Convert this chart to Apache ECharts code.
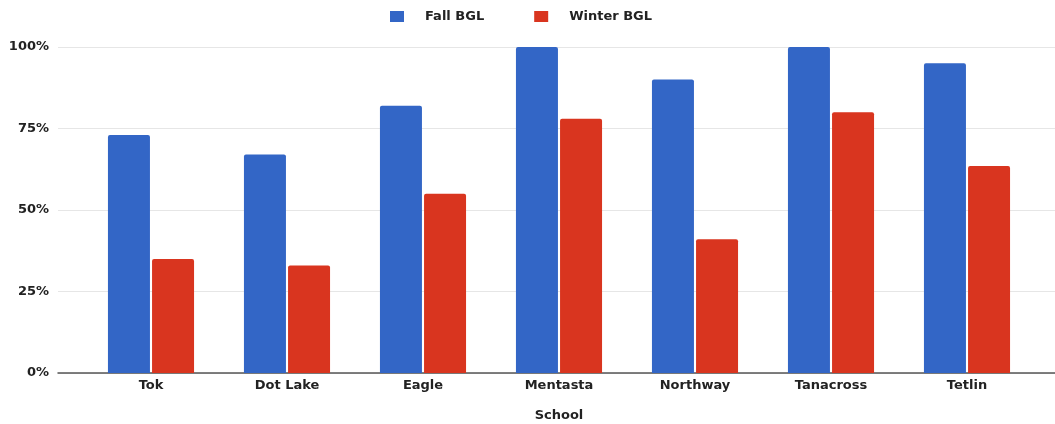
<!DOCTYPE html>
<html>
<head>
<meta charset="utf-8">
<script src="https://cdn.jsdelivr.net/npm/echarts@6/dist/echarts.min.js"></script>
<style>
  html, body { margin: 0; padding: 0; background: #fff; }
  #main { width: 1055px; height: 424px; }
</style>
</head>
<body>
<div id="main"></div>
<script>
const schools = ['Tok', 'Dot Lake', 'Eagle', 'Mentasta', 'Northway', 'Tanacross', 'Tetlin'];
const fallBGL = [0.73, 0.67, 0.82, 1.00, 0.90, 1.00, 0.95];
const winterBGL = [0.35, 0.33, 0.55, 0.78, 0.41, 0.80, 0.635];
const yTicks = [0, 0.25, 0.5, 0.75, 1];

const font = 'DejaVu Sans, sans-serif';
const txt = { fontFamily: font, fontSize: 13, fontWeight: 'bold', color: '#222' };

let myChart = echarts.init(document.getElementById('main'));
myChart.setOption({
    animation: false,
    legend: {
        top: 5,
        left: 385,
        itemWidth: 14,
        itemHeight: 11,
        itemGap: 50,
        icon: 'rect',
        textStyle: Object.assign({ padding: [0, 0, 0, 16] }, txt),
        data: ['Fall BGL', 'Winter BGL']
    },
    grid: [
        { left: 58, right: 0, top: 47, bottom: 51, outerBoundsMode: 'none' },
        { left: 83, right: 20, top: 47, bottom: 51, outerBoundsMode: 'none' }
    ],
    xAxis: [{
        gridIndex: 0,
        type: 'category',
        data: [''],
        axisLine: { show: true, lineStyle: { color: '#555', width: 1.5 } },
        axisTick: { show: false },
        axisLabel: { show: false }
    }, {
        gridIndex: 1,
        type: 'category',
        data: schools,
        axisLine: { show: false },
        axisTick: { show: false },
        axisLabel: Object.assign({ margin: 6 }, txt),
        name: 'School',
        nameLocation: 'middle',
        nameGap: 36,
        nameTextStyle: txt
    }],
    yAxis: [{
        gridIndex: 0,
        type: 'value',
        min: yTicks[0],
        max: yTicks[yTicks.length - 1],
        interval: 0.25,
        axisLine: { show: false },
        axisTick: { show: false },
        splitLine: { lineStyle: { color: '#e6e6e6' } },
        axisLabel: Object.assign({
            margin: 9,
            formatter: (v) => Math.round(v * 100) + '%'
        }, txt)
    }, {
        gridIndex: 1,
        type: 'value',
        min: 0,
        max: 1,
        show: false
    }],
    series: [{
        name: 'Fall BGL',
        type: 'bar',
        xAxisIndex: 1,
        yAxisIndex: 1,
        data: fallBGL,
        barWidth: 42,
        barGap: '5%',
        itemStyle: { color: '#3366c6', borderRadius: [2, 2, 0, 0] }
    }, {
        name: 'Winter BGL',
        type: 'bar',
        xAxisIndex: 1,
        yAxisIndex: 1,
        data: winterBGL,
        barWidth: 42,
        itemStyle: { color: '#d9351f', borderRadius: [2, 2, 0, 0] }
    }]
});
</script>
</body>
</html>
